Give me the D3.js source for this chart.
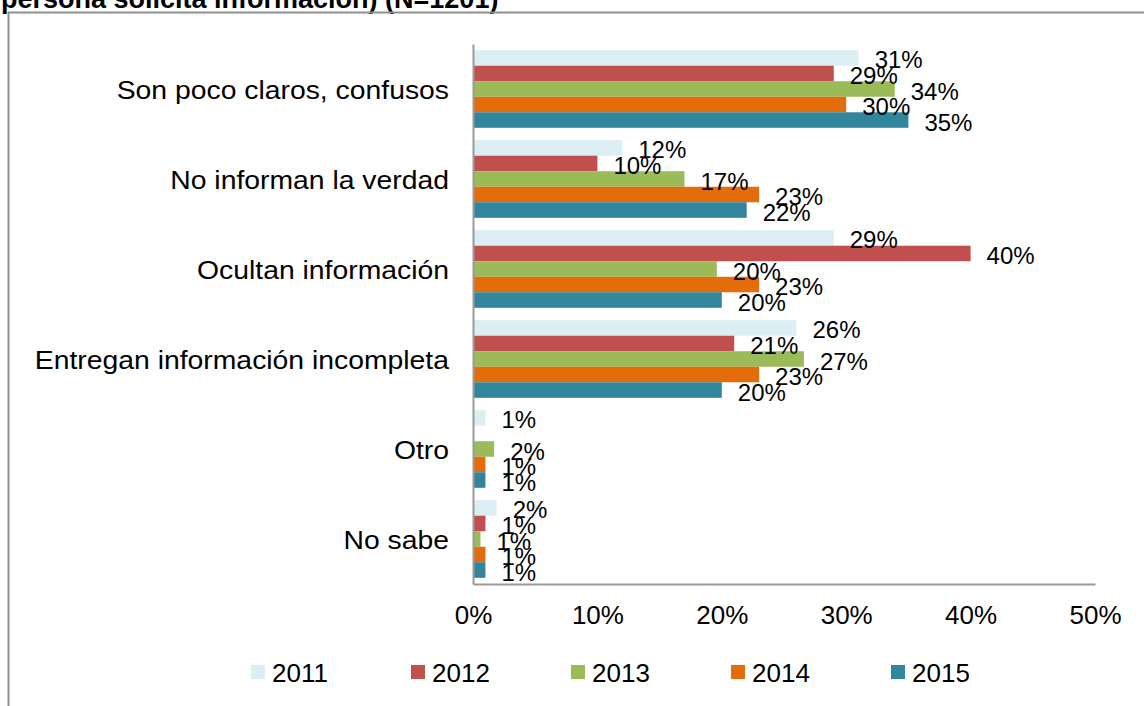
<!DOCTYPE html>
<html>
<head>
<meta charset="utf-8">
<script src="https://cdn.jsdelivr.net/npm/d3@7"></script>
<style>
  html, body { margin: 0; padding: 0; background: #fff; }
  svg { display: block; font-family: "Liberation Sans", Arial, Helvetica, sans-serif; }
</style>
</head>
<body>
<svg id="chart" width="1144" height="706"></svg>
<script>
const categories = ["Son poco claros, confusos", "No informan la verdad", "Ocultan información",
                    "Entregan información incompleta", "Otro", "No sabe"];
const years = ["2011", "2012", "2013", "2014", "2015"];
const v2011 = [31, 12, 29, 26, 1, 1.9];
const v2012 = [29, 10, 40, 21, 0, 1];
const v2013 = [33.9, 17, 19.6, 26.6, 1.7, 0.6];
const v2014 = [30, 23, 23, 23, 1, 1];
const v2015 = [35, 22, 20, 20, 1, 1];
const xTicks = [0, 10, 20, 30, 40, 50];
const titleText = "persona solicita información) (N=1201)";

const seriesValues = [v2011, v2012, v2013, v2014, v2015];
const colors = ["#dbeef4", "#c0504d", "#9bbb59", "#e46c0a", "#31859c"];

const svg = d3.select("#chart");

// frame and cut-off title
svg.append("text").attr("x", 1).attr("y", 8)
  .attr("font-size", 27).attr("font-weight", "bold").attr("fill", "#000")
  .text(titleText);
svg.append("line").attr("x1", 8).attr("x2", 1144).attr("y1", 12.5).attr("y2", 12.5)
  .attr("stroke", "#8f8f8f").attr("stroke-width", 2);
svg.append("line").attr("x1", 8.5).attr("x2", 8.5).attr("y1", 12).attr("y2", 706)
  .attr("stroke", "#8f8f8f").attr("stroke-width", 2);

const x = d3.scaleLinear().domain([0, 50]).range([473, 1095]);
const y = d3.scaleBand().domain(categories).range([44, 584]).padding(0);
const yi = d3.scaleBand().domain(years).range([0, y.bandwidth()]).paddingInner(0).paddingOuter(0.4);

const data = [];
categories.forEach((c, ci) => {
  years.forEach((yr, si) => {
    data.push({ cat: c, year: yr, value: seriesValues[si][ci], color: colors[si] });
  });
});

const fmt = d3.format(".0f");

const groups = svg.append("g").selectAll("g.cat")
  .data(categories).join("g")
  .attr("class", "cat")
  .attr("transform", d => `translate(0,${y(d)})`);

groups.selectAll("rect")
  .data(c => data.filter(d => d.cat === c && d.value > 0))
  .join("rect")
  .attr("x", x(0))
  .attr("y", d => yi(d.year))
  .attr("width", d => x(d.value) - x(0))
  .attr("height", yi.bandwidth())
  .attr("fill", d => d.color);

groups.selectAll("text.val")
  .data(c => data.filter(d => d.cat === c && d.value > 0))
  .join("text")
  .attr("class", "val")
  .attr("x", d => x(d.value) + 16)
  .attr("y", d => yi(d.year) + yi.bandwidth() / 2 + 2)
  .attr("dominant-baseline", "central")
  .attr("font-size", 24)
  .attr("fill", "#000")
  .text(d => fmt(d.value) + "%");

// category labels (slightly wide)
groups.append("text")
  .attr("transform", `translate(449,${y.bandwidth() / 2 + 1}) scale(1.09,1)`)
  .attr("text-anchor", "end")
  .attr("dominant-baseline", "central")
  .attr("font-size", 26)
  .attr("fill", "#000")
  .text(d => d);

// axes
const yAxis = svg.append("g").attr("transform", `translate(${x(0)},0)`)
  .call(d3.axisLeft(y).tickSize(0).tickSizeOuter(0).tickFormat(""));
yAxis.select(".domain").attr("stroke", "#9a9a9a").attr("stroke-width", 2);

const xAxis = svg.append("g").attr("transform", `translate(0,584)`)
  .call(d3.axisBottom(x).tickValues(xTicks).tickSize(0).tickSizeOuter(0).tickPadding(22)
    .tickFormat(d => d + "%"));
xAxis.select(".domain").attr("stroke", "#9a9a9a").attr("stroke-width", 2);
xAxis.selectAll("text").attr("font-size", 26).attr("fill", "#000")
  .attr("font-family", "Liberation Sans, Arial, sans-serif");

// legend
const legend = svg.append("g").selectAll("g")
  .data(years).join("g")
  .attr("transform", (d, i) => `translate(${251 + i * 160},672)`);
legend.append("rect").attr("x", 0).attr("y", -7).attr("width", 14).attr("height", 14)
  .attr("fill", (d, i) => colors[i]);
legend.append("text").attr("x", 21).attr("y", 1)
  .attr("dominant-baseline", "central").attr("font-size", 26).attr("fill", "#000")
  .text(d => d);
</script>
</body>
</html>
